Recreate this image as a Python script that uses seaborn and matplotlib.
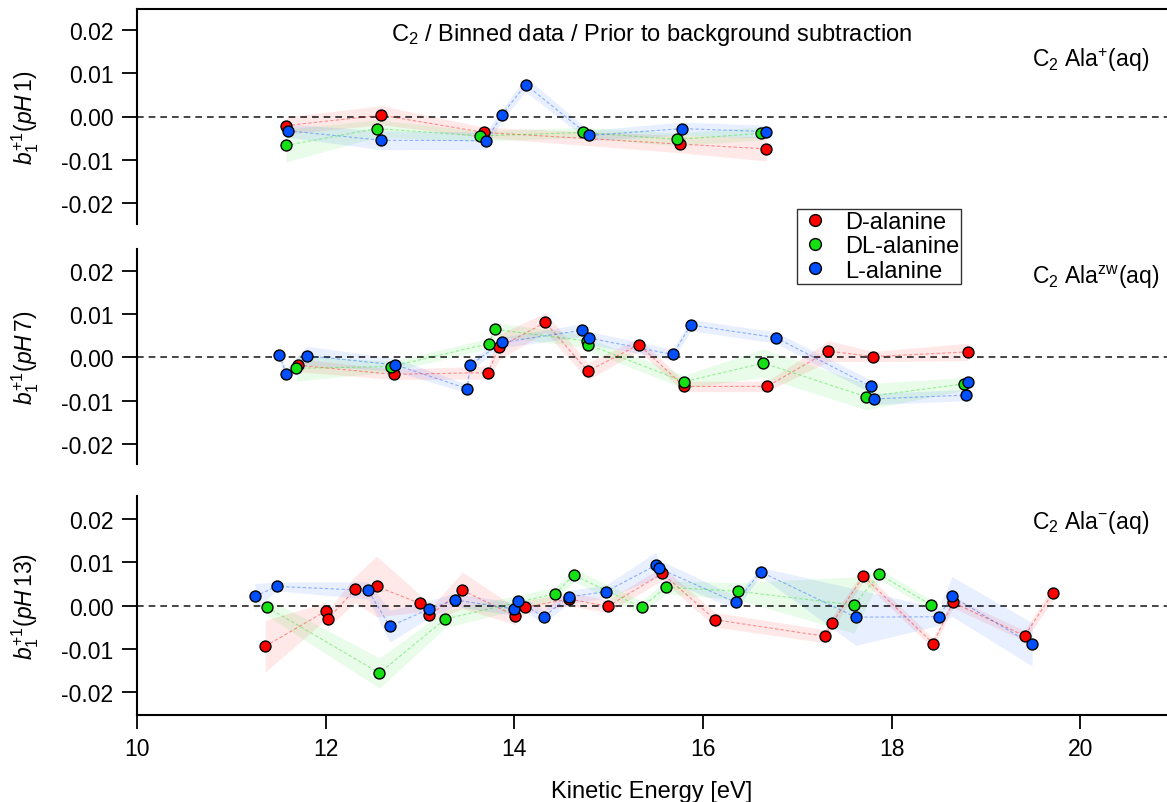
import numpy as np
import pandas as pd
import matplotlib
matplotlib.use("Agg")
import matplotlib.pyplot as plt
import seaborn as sns
from matplotlib.lines import Line2D
from matplotlib.ticker import FixedLocator, FormatStrFormatter

sns.set_style("ticks")
plt.rcParams['font.family'] = ['Liberation Sans', 'DejaVu Sans']
plt.rcParams['mathtext.fontset'] = 'custom'
plt.rcParams['mathtext.rm'] = 'Liberation Sans'
plt.rcParams['mathtext.it'] = 'Liberation Sans:italic'
plt.rcParams['mathtext.bf'] = 'Liberation Sans:bold'
plt.rcParams['axes.unicode_minus'] = False
for k in ['text.color', 'axes.labelcolor', 'xtick.color', 'ytick.color', 'axes.edgecolor']:
    plt.rcParams[k] = 'black'

# ---------------- data ----------------
series_names = ["D-alanine", "DL-alanine", "L-alanine"]
series_colors = ["#ff0000", "#14e014", "#0050ff"]

# pH 1
p1_D_x = [11.58, 12.59, 13.68, 15.76, 16.67]
p1_D_y = [-0.0021, 0.0003, -0.0037, -0.0064, -0.0075]
p1_D_e = [0.0020, 0.0022, 0.0012, 0.0020, 0.0028]
p1_DL_x = [11.58, 12.54, 13.64, 14.73, 15.72, 16.62]
p1_DL_y = [-0.0067, -0.0028, -0.0045, -0.0037, -0.0053, -0.0039]
p1_DL_e = [0.0038, 0.0020, 0.0012, 0.0012, 0.0015, 0.0015]
p1_L_x = [11.60, 12.59, 13.70, 13.87, 14.12, 14.79, 15.78, 16.67]
p1_L_y = [-0.0033, -0.0055, -0.0056, 0.0004, 0.0074, -0.0044, -0.0028, -0.0035]
p1_L_e = [0.0015, 0.0022, 0.0020, 0.0012, 0.0017, 0.0012, 0.0015, 0.0015]

# pH 7
p2_D_x = [11.71, 12.72, 13.72, 13.84, 14.33, 14.78, 15.32, 15.80, 16.68, 17.33, 17.80, 18.81]
p2_D_y = [-0.0018, -0.0039, -0.0035, 0.0024, 0.0081, -0.0032, 0.0030, -0.0067, -0.0067, 0.0015, 0.0002, 0.0013]
p2_D_e = [0.0015, 0.0012, 0.0015, 0.0030, 0.0022, 0.0020, 0.0015, 0.0012, 0.0012, 0.0024, 0.0012, 0.0020]
p2_DL_x = [11.69, 12.69, 13.73, 13.80, 14.77, 14.78, 15.80, 16.64, 17.73, 18.77]
p2_DL_y = [-0.0025, -0.0021, 0.0032, 0.0065, 0.0038, 0.0030, -0.0056, -0.0013, -0.0091, -0.0061]
p2_DL_e = [0.0030, 0.0012, 0.0012, 0.0015, 0.0015, 0.0015, 0.0015, 0.0033, 0.0030, 0.0015]
p2_L_x = [11.51, 11.58, 11.80, 12.74, 13.50, 13.53, 13.87, 14.72, 14.79, 15.68, 15.87, 16.77, 17.78, 17.81, 18.79, 18.81]
p2_L_y = [0.0006, -0.0038, 0.0004, -0.0017, -0.0072, -0.0018, 0.0035, 0.0063, 0.0045, 0.0007, 0.0075, 0.0046, -0.0067, -0.0096, -0.0087, -0.0056]
p2_L_e = [0.0012, 0.0012, 0.0022, 0.0015, 0.0010, 0.0012, 0.0012, 0.0015, 0.0015, 0.0012, 0.0013, 0.0013, 0.0015, 0.0013, 0.0013, 0.0013]

# pH 13
p3_D_x = [11.36, 12.00, 12.02, 12.31, 12.54, 13.00, 13.10, 13.45, 14.01, 14.11, 14.58, 14.99, 15.57, 16.13, 17.29, 17.37, 17.70, 18.44, 18.65, 19.41, 19.71]
p3_D_y = [-0.0094, -0.0013, -0.0032, 0.0037, 0.0044, 0.0005, -0.0023, 0.0035, -0.0024, -0.0004, 0.0015, -0.0002, 0.0074, -0.0033, -0.0071, -0.0040, 0.0068, -0.0088, 0.0007, -0.0070, 0.0029]
p3_D_e = [0.0060, 0.0020, 0.0020, 0.0030, 0.0070, 0.0020, 0.0015, 0.0042, 0.0020, 0.0015, 0.0015, 0.0015, 0.0015, 0.0017, 0.0015, 0.0015, 0.0012, 0.0012, 0.0012, 0.0012, 0.0017]
p3_DL_x = [11.38, 12.57, 13.27, 14.43, 14.63, 15.35, 15.61, 16.37, 17.60, 17.87, 18.42]
p3_DL_y = [-0.0004, -0.0156, -0.0031, 0.0027, 0.0070, -0.0004, 0.0042, 0.0033, 0.0001, 0.0072, 0.0001]
p3_DL_e = [0.0020, 0.0035, 0.0020, 0.0015, 0.0015, 0.0015, 0.0015, 0.0020, 0.0065, 0.0012, 0.0012]
p3_L_x = [11.25, 11.48, 12.45, 12.68, 13.10, 13.37, 14.00, 14.04, 14.31, 14.58, 14.97, 15.50, 15.53, 16.35, 16.61, 17.62, 18.50, 18.64, 19.49]
p3_L_y = [0.0021, 0.0044, 0.0035, -0.0048, -0.0008, 0.0013, -0.0008, 0.0010, -0.0026, 0.0020, 0.0032, 0.0093, 0.0086, 0.0007, 0.0078, -0.0027, -0.0026, 0.0021, -0.0090]
p3_L_e = [0.0030, 0.0010, 0.0020, 0.0037, 0.0020, 0.0015, 0.0015, 0.0015, 0.0015, 0.0015, 0.0015, 0.0030, 0.0020, 0.0015, 0.0010, 0.0065, 0.0020, 0.0046, 0.0050]

y_ticks = [-0.02, -0.01, 0.0, 0.01, 0.02]
x_ticks = [10, 12, 14, 16, 18, 20]
ylabels = [r'$b_1^{+1}(pH\,1)$', r'$b_1^{+1}(pH\,7)$', r'$b_1^{+1}(pH\,13)$']
right_labels = [r'C$_2$ Ala$^{+}$(aq)', r'C$_2$ Ala$^{\mathrm{zw}}$(aq)', r'C$_2$ Ala$^{-}$(aq)']
title_text = r'C$_2$ / Binned data / Prior to background subtraction'
xlabel_text = 'Kinetic Energy [eV]'

panels = [
    [(p1_D_x, p1_D_y, p1_D_e), (p1_DL_x, p1_DL_y, p1_DL_e), (p1_L_x, p1_L_y, p1_L_e)],
    [(p2_D_x, p2_D_y, p2_D_e), (p2_DL_x, p2_DL_y, p2_DL_e), (p2_L_x, p2_L_y, p2_L_e)],
    [(p3_D_x, p3_D_y, p3_D_e), (p3_DL_x, p3_DL_y, p3_DL_e), (p3_L_x, p3_L_y, p3_L_e)],
]

# ---------------- figure ----------------
W, H = 1167, 803
fig = plt.figure(figsize=(W / 100, H / 100), dpi=100)

def frac(left, top, right, bottom):
    return [left / W, 1 - bottom / H, (right - left) / W, (bottom - top) / H]

rects = [frac(137, 10, 1167, 225), frac(137, 250, 1167, 465), frac(137, 497, 1167, 716)]
ylims = [(-0.0249, 0.0249), (-0.02465, 0.0251), (-0.0253, 0.0253)]

FS_TICK = 16.5
FS_TEXT = 17
axes = []
for i, (rect, series) in enumerate(zip(rects, panels)):
    ax = fig.add_axes(rect)
    ax.set_facecolor('none')
    axes.append(ax)
    for (xs, ys, es), col in zip(series, series_colors):
        xs = np.asarray(xs); ys = np.asarray(ys); es = np.asarray(es)
        ax.fill_between(xs, ys - es, ys + es, color=col, alpha=0.09, lw=0)
        df = pd.DataFrame({"x": xs, "y": ys})
        sns.lineplot(data=df, x="x", y="y", ax=ax, color=col, lw=0.8, alpha=0.4,
                     linestyle=(0, (3, 2)), estimator=None, sort=True)
        sns.scatterplot(data=df, x="x", y="y", ax=ax, color=col, s=62,
                        edgecolor='black', linewidth=1.0, zorder=3)
    ax.axhline(0, color='black', lw=1.2, ls=(0, (4, 3)), zorder=1, alpha=0.85)
    ax.set_xlim(10, 10 + 1030 / 94.33)
    ax.set_ylim(*ylims[i])
    ax.yaxis.set_major_locator(FixedLocator(y_ticks))
    ax.yaxis.set_major_formatter(FormatStrFormatter('%.2f'))
    ax.set_ylabel(ylabels[i], fontsize=FS_TICK)
    ax.yaxis.set_label_coords(-0.093, 0.5)
    ax.tick_params(axis='y', direction='out', length=11, width=1.3, labelsize=FS_TICK, pad=6)
    ax.spines['right'].set_visible(False)
    ax.spines['left'].set_linewidth(1.5)
    if i == 2:
        ax.xaxis.set_major_locator(FixedLocator(x_ticks))
        ax.tick_params(axis='x', direction='out', length=10, width=1.3, labelsize=FS_TICK, pad=6)
        ax.spines['bottom'].set_linewidth(1.5)
        ax.spines['top'].set_visible(False)
        ax.set_xlabel(xlabel_text, fontsize=FS_TEXT, labelpad=14)
    else:
        ax.set_xticks([])
        ax.set_xlabel('')
        ax.spines['bottom'].set_visible(False)
        if i == 0:
            ax.spines['top'].set_linewidth(1.5)
        else:
            ax.spines['top'].set_visible(False)
    if ax.get_legend() is not None:
        ax.get_legend().remove()

# right-side labels
label_pos = [(1032, 60), (1032, 277), (1032, 523)]
for (px, py), t in zip(label_pos, right_labels):
    fig.text(px / W, 1 - py / H, t, ha='left', va='center', fontsize=FS_TICK)

fig.text(652 / W, 1 - 35 / H, title_text, ha='center', va='center', fontsize=FS_TEXT)

handles = [Line2D([], [], marker='o', ls='none', markerfacecolor=c, markeredgecolor='black',
                  markeredgewidth=1.0, markersize=8.5) for c in series_colors]
leg = fig.legend(handles, series_names, loc='upper left', bbox_to_anchor=(797 / W, 1 - 210 / H),
                 bbox_transform=fig.transFigure, frameon=True, fancybox=False, fontsize=17,
                 borderaxespad=0, handletextpad=0.55, labelspacing=0.1, borderpad=0.08,
                 handlelength=1.4)
leg.get_frame().set_edgecolor('black')
leg.get_frame().set_linewidth(1.0)

fig.savefig('out.png', dpi=100)
